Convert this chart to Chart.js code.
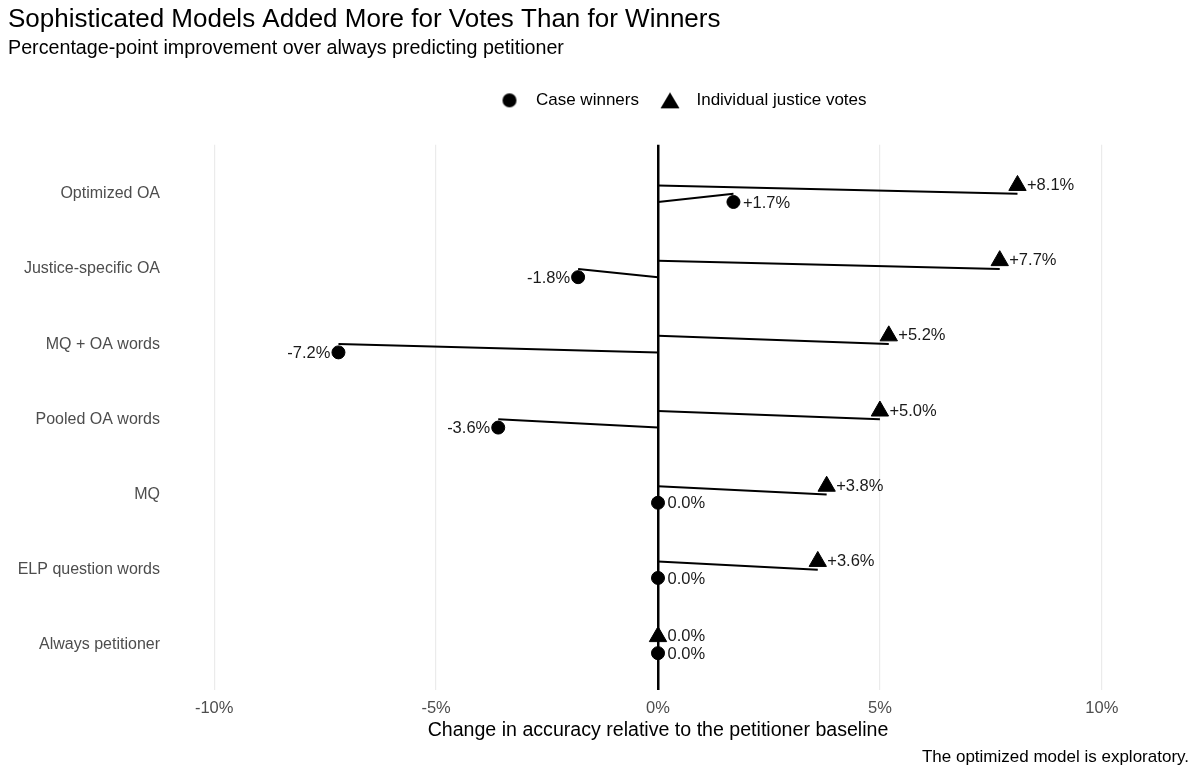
<!DOCTYPE html>
<html>
<head>
<meta charset="utf-8">
<script src="https://cdn.jsdelivr.net/npm/chart.js@4.4.1/dist/chart.umd.min.js"></script>
<style>
  body { margin: 0; background: #fff; }
  #wrap { width: 1200px; height: 776px; position: relative; }
</style>
</head>
<body>
<div id="wrap"><canvas id="dotChart"></canvas></div>
<script>
const models = ['Optimized OA', 'Justice-specific OA', 'MQ + OA words', 'Pooled OA words', 'MQ', 'ELP question words', 'Always petitioner'];
const voteGain = [8.1, 7.7, 5.2, 5.0, 3.8, 3.6, 0.0];
const caseGain = [1.7, -1.8, -7.2, -3.6, 0.0, 0.0, 0.0];
const xTicks = [-10, -5, 0, 5, 10];

const FONT = "'Liberation Sans', Arial, sans-serif";
const dodge = 0.11;

const fmtPct = (v) => (v > 0 ? '+' : '') + v.toFixed(1) + '%';

// segment goes from the dodged spot on the zero line to the category centre
const segment = (value, i, offset) => ({
    type: 'line',
    data: [{ x: 0, y: i + offset }, { x: value, y: i }],
    borderColor: '#000',
    borderWidth: 2,
    pointRadius: 0,
    pointHoverRadius: 0,
    fill: false
});

const segments = [
    ...voteGain.map((v, i) => segment(v, i, -dodge)),
    ...caseGain.map((v, i) => segment(v, i, dodge))
];

const pointSets = [
    {
        type: 'scatter',
        label: 'Case winners',
        data: caseGain.map((v, i) => ({ x: v, y: i + dodge })),
        pointStyle: 'circle',
        pointRadius: 6.5,
        pointHoverRadius: 6.5,
        backgroundColor: '#000',
        borderColor: '#000'
    },
    {
        type: 'scatter',
        label: 'Individual justice votes',
        data: voteGain.map((v, i) => ({ x: v, y: i - dodge })),
        pointStyle: 'triangle',
        pointRadius: 10,
        pointHoverRadius: 10,
        backgroundColor: '#000',
        borderColor: '#000'
    }
];

// small glyphs for the legend keys
const makeGlyph = (kind) => {
    const c = document.createElement('canvas');
    c.width = 20;
    c.height = 20;
    const g = c.getContext('2d');
    g.fillStyle = '#000';
    g.beginPath();
    if (kind === 'circle') {
        g.arc(10, 10, 7, 0, Math.PI * 2);
    } else {
        g.moveTo(10, 2);
        g.lineTo(19.5, 18);
        g.lineTo(0.5, 18);
        g.closePath();
    }
    g.fill();
    return c;
};
const glyphs = { 'Case winners': makeGlyph('circle'), 'Individual justice votes': makeGlyph('triangle') };

const valueLabels = {
    id: 'valueLabels',
    afterDatasetsDraw: (chart) => {
        const ctx = chart.ctx;
        ctx.save();
        ctx.font = '16.5px ' + FONT;
        ctx.fillStyle = '#1a1a1a';
        ctx.textBaseline = 'middle';
        const first = segments.length;
        [first, first + 1].forEach((di) => {
            const meta = chart.getDatasetMeta(di);
            const values = di === first ? caseGain : voteGain;
            meta.data.forEach((pt, i) => {
                const v = values[i];
                const dy = di === first ? 1 : 0;
                if (v < 0) {
                    ctx.textAlign = 'right';
                    ctx.fillText(fmtPct(v), pt.x - 8, pt.y + dy);
                } else {
                    ctx.textAlign = 'left';
                    ctx.fillText(fmtPct(v), pt.x + 9.5, pt.y + dy);
                }
            });
        });
        ctx.restore();
    }
};

const caption = {
    id: 'caption',
    afterDraw: (chart) => {
        const ctx = chart.ctx;
        ctx.save();
        ctx.font = '17px ' + FONT;
        ctx.fillStyle = '#000';
        ctx.textAlign = 'right';
        ctx.textBaseline = 'middle';
        ctx.fillText('The optimized model is exploratory.', chart.width - 11, 757);
        ctx.restore();
    }
};

// extra room under the legend and a nudge to the right, like the original
const legendPlace = {
    id: 'legendPlace',
    beforeLayout: (chart) => {
        const lg = chart.legend;
        if (lg && !lg._patched) {
            const fit = lg.fit;
            lg.fit = function () {
                fit.call(this);
                this.height += 26;
            };
            lg._patched = true;
        }
    },
    afterLayout: (chart) => {
        chart.legend.left += 113;
        chart.legend.right += 113;
    }
};

new Chart(document.getElementById('dotChart').getContext('2d'), {
    data: { datasets: [...segments, ...pointSets] },
    options: {
        responsive: true,
        maintainAspectRatio: false,
        animation: false,
        layout: { padding: { left: 8, right: 76, top: 4, bottom: 34 } },
        scales: {
            x: {
                type: 'linear',
                min: -10.5,
                max: 10.5,
                afterBuildTicks: (scale) => { scale.ticks = xTicks.map(v => ({ value: v })); },
                afterFit: (scale) => { scale.height = 52; },
                ticks: {
                    color: '#4d4d4d',
                    font: { family: FONT, size: 16.5 },
                    padding: 9,
                    callback: (v) => v + '%'
                },
                grid: {
                    color: (c) => c.tick && c.tick.value === 0 ? '#000' : '#ebebeb',
                    lineWidth: (c) => c.tick && c.tick.value === 0 ? 2.5 : 1.2,
                    drawTicks: false
                },
                border: { display: false },
                title: {
                    display: true,
                    text: 'Change in accuracy relative to the petitioner baseline',
                    color: '#000',
                    font: { family: FONT, size: 19.6 },
                    padding: { top: 2, bottom: 0 }
                }
            },
            y: {
                type: 'linear',
                reverse: true,
                min: -0.65,
                max: 6.6,
                afterBuildTicks: (scale) => { scale.ticks = models.map((m, i) => ({ value: i })); },
                afterFit: (scale) => { scale.width = 184; },
                ticks: {
                    color: '#4d4d4d',
                    font: { family: FONT, size: 16 },
                    padding: 32,
                    crossAlign: 'near',
                    callback: (v) => models[v]
                },
                grid: { display: false, drawTicks: false },
                border: { display: false }
            }
        },
        plugins: {
            title: {
                display: true,
                text: 'Sophisticated Models Added More for Votes Than for Winners',
                align: 'start',
                color: '#000',
                font: { family: FONT, size: 26, weight: 'normal' },
                padding: { top: 0, bottom: 2 }
            },
            subtitle: {
                display: true,
                text: 'Percentage-point improvement over always predicting petitioner',
                align: 'start',
                color: '#000',
                font: { family: FONT, size: 19.7 },
                padding: { top: 0, bottom: 18 }
            },
            legend: {
                position: 'top',
                align: 'center',
                labels: {
                    usePointStyle: true,
                    pointStyleWidth: 36,
                    color: '#000',
                    font: { family: FONT, size: 17 },
                    padding: 13,
                    filter: (item) => item.datasetIndex >= segments.length,
                    generateLabels: (chart) => Chart.defaults.plugins.legend.labels.generateLabels(chart)
                        .map(item => ({ ...item, pointStyle: glyphs[item.text] || item.pointStyle }))
                }
            },
            tooltip: { enabled: false }
        }
    },
    plugins: [valueLabels, caption, legendPlace]
});
</script>
</body>
</html>
